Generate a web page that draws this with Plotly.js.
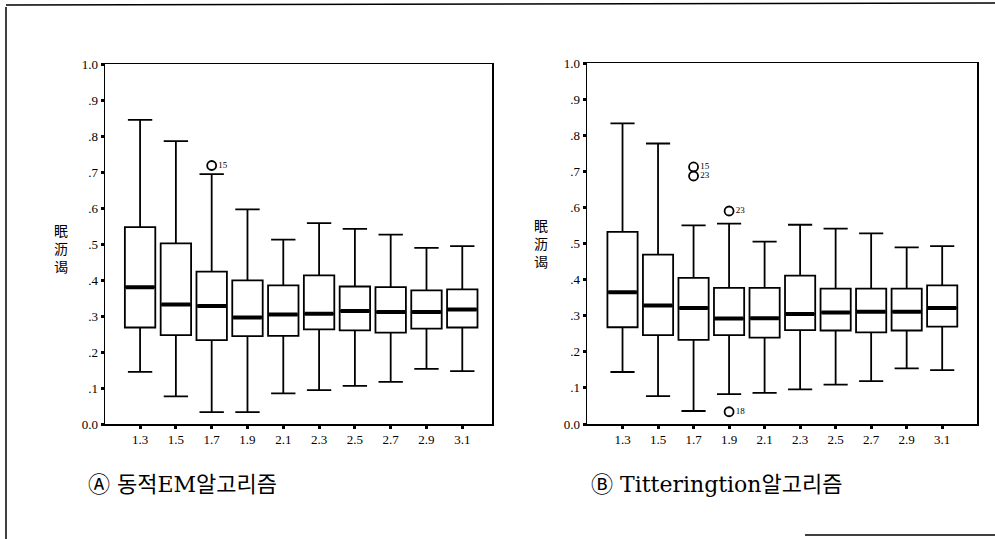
<!DOCTYPE html>
<html>
<head>
<meta charset="utf-8">
<script src="https://cdn.plot.ly/plotly-3.0.1.min.js"></script>
<style>html,body{margin:0;padding:0;background:#fff;}#chart{width:995px;height:539px;}</style>
</head>
<body>
<div id="chart"></div>
<script>
// ---- data ----
const categories = ['1.3','1.5','1.7','1.9','2.1','2.3','2.5','2.7','2.9','3.1'];

// (A) dynamic EM algorithm
const a_upper = [0.845,0.786,0.694,0.596,0.512,0.558,0.542,0.526,0.489,0.494];
const a_q3    = [0.547,0.502,0.423,0.399,0.385,0.413,0.382,0.380,0.371,0.374];
const a_med   = [0.380,0.332,0.328,0.296,0.304,0.306,0.314,0.311,0.311,0.318];
const a_q1    = [0.268,0.247,0.233,0.244,0.245,0.263,0.260,0.254,0.265,0.268];
const a_lower = [0.145,0.077,0.033,0.033,0.085,0.094,0.106,0.117,0.153,0.147];
const a_outX  = ['1.7'];
const a_outY  = [0.718];
const a_outLbl = ['15'];

// (B) Titterington algorithm
const b_upper = [0.833,0.777,0.550,0.555,0.505,0.552,0.541,0.528,0.489,0.493];
const b_q3    = [0.532,0.469,0.405,0.377,0.377,0.411,0.375,0.375,0.375,0.384];
const b_med   = [0.365,0.328,0.321,0.292,0.293,0.305,0.309,0.311,0.311,0.321];
const b_q1    = [0.268,0.246,0.233,0.246,0.239,0.260,0.259,0.254,0.259,0.270];
const b_lower = [0.144,0.077,0.036,0.083,0.086,0.096,0.109,0.119,0.154,0.149];
const b_outX  = ['1.7','1.7','1.9','1.9'];
const b_outY  = [0.712,0.687,0.590,0.034];
const b_outLbl = ['15','23','23','18'];

const yTickVals = [0,0.1,0.2,0.3,0.4,0.5,0.6,0.7,0.8,0.9,1.0];
const yTickText = ['0.0','.1','.2','.3','.4','.5','.6','.7','.8','.9','1.0'];
const yTitleText = '眠<br>沥<br>谒';
const panelTitles = ['Ⓐ 동적EM알고리즘','Ⓑ Titteringtion알고리즘'];

// ---- build traces ----
const serif = 'Liberation Serif, Noto Sans CJK KR, serif';
const titleSerif = 'DejaVu Serif, Noto Sans CJK KR, serif';
function boxTraces(q1, med, q3, lo, hi, xa, ya){
  return [
    {type:'box', x:categories, q1:q1, median:med, q3:q3, lowerfence:lo, upperfence:hi,
     xaxis:xa, yaxis:ya, width:0.85, whiskerwidth:0.8, fillcolor:'#ffffff',
     line:{color:'#000', width:1.8}, boxpoints:false, hoverinfo:'skip', showlegend:false},
    {type:'box', x:categories, q1:med, median:med, q3:med, lowerfence:med, upperfence:med,
     xaxis:xa, yaxis:ya, width:0.8, whiskerwidth:0, fillcolor:'#000',
     line:{color:'#000', width:4}, boxpoints:false, hoverinfo:'skip', showlegend:false}
  ];
}
function outlierTrace(xs, ys, lbls, xa, ya){
  return {type:'scatter', mode:'markers+text', x:xs, y:ys, text:lbls,
    textposition:'middle right', textfont:{family:serif, size:9, color:'#000'},
    marker:{symbol:'circle-open', size:9, color:'#000', line:{width:1.8, color:'#000'}},
    xaxis:xa, yaxis:ya, hoverinfo:'skip', showlegend:false, cliponaxis:false};
}

const data = [].concat(
  boxTraces(a_q1, a_med, a_q3, a_lower, a_upper, 'x', 'y'),
  [outlierTrace(a_outX, a_outY, a_outLbl, 'x', 'y')],
  boxTraces(b_q1, b_med, b_q3, b_lower, b_upper, 'x2', 'y2'),
  [outlierTrace(b_outX, b_outY, b_outLbl, 'x2', 'y2')]
);

const W = 995, H = 539;
const px = v => v / W, py = v => 1 - v / H;

function xAxis(domain, range, anchor){
  return {domain:domain, anchor:anchor, type:'category', range:range,
    showline:true, mirror:true, linecolor:'#000', linewidth:1.5,
    ticks:'outside', ticklen:3, tickwidth:3, tickcolor:'#000',
    showgrid:false, zeroline:false, fixedrange:true,
    tickfont:{family:serif, size:13, color:'#000'}};
}
function yAxis(domain, anchor){
  return {domain:domain, anchor:anchor, range:[0,1],
    tickvals:yTickVals, ticktext:yTickText,
    showline:true, mirror:true, linecolor:'#000', linewidth:1.5,
    ticks:'outside', ticklen:3, tickwidth:3, tickcolor:'#000',
    showgrid:false, zeroline:false, fixedrange:true,
    tickfont:{family:serif, size:13, color:'#000'}};
}

const layout = {
  width:W, height:H, margin:{l:0,r:0,t:0,b:0},
  paper_bgcolor:'#fff', plot_bgcolor:'#fff',
  boxmode:'overlay', showlegend:false,
  font:{color:'#000'},
  xaxis: xAxis([px(105), px(492)], [-0.98, 9.83], 'y'),
  yaxis: yAxis([py(424), py(64)], 'x'),
  xaxis2: xAxis([px(587), px(977)], [-1, 9.98], 'y2'),
  yaxis2: yAxis([py(424), py(63)], 'x2'),
  annotations:[
    {xref:'paper', yref:'paper', x:px(61), y:py(248), text:yTitleText, showarrow:false,
     font:{family:'Noto Sans CJK SC', size:14, color:'#000'}, align:'center', xanchor:'center', yanchor:'middle'},
    {xref:'paper', yref:'paper', x:px(541), y:py(243), text:yTitleText, showarrow:false,
     font:{family:'Noto Sans CJK SC', size:14, color:'#000'}, align:'center', xanchor:'center', yanchor:'middle'},
    {xref:'paper', yref:'paper', x:px(86), y:py(484), text:panelTitles[0], showarrow:false,
     font:{family:titleSerif, size:22, color:'#000'}, xanchor:'left', yanchor:'middle'},
    {xref:'paper', yref:'paper', x:px(589), y:py(484), text:panelTitles[1], showarrow:false,
     font:{family:titleSerif, size:22, color:'#000'}, xanchor:'left', yanchor:'middle'}
  ],
  shapes:[
    {type:'line', xref:'paper', yref:'paper', x0:px(6), x1:px(6), y0:py(7), y1:py(539), line:{color:'#000', width:1.5}},
    {type:'line', xref:'paper', yref:'paper', x0:px(6), x1:px(995), y0:py(5), y1:py(3), line:{color:'#000', width:1.5}},
    {type:'line', xref:'paper', yref:'paper', x0:px(805), x1:px(995), y0:py(535), y1:py(535), line:{color:'#000', width:1.5}}
  ]
};

Plotly.newPlot('chart', data, layout, {staticPlot:true, displayModeBar:false});
</script>
</body>
</html>
